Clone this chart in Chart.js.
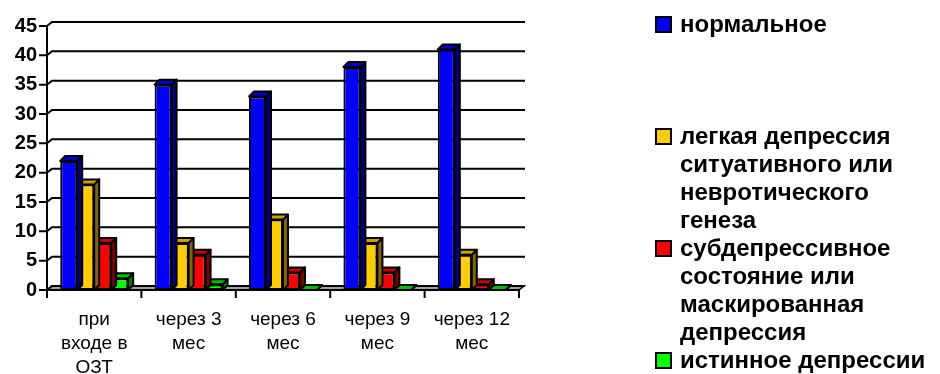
<!DOCTYPE html>
<html lang="ru">
<head>
<meta charset="utf-8">
<title>Динамика депрессивных состояний</title>
<script src="https://cdn.jsdelivr.net/npm/chart.js@4.4.1/dist/chart.umd.min.js"></script>
<style>
  html, body { margin: 0; padding: 0; background: #fff; }
  #wrap { position: relative; width: 940px; height: 374px; overflow: hidden; }
  #chart { position: absolute; left: 0; top: 0; }
  #legend { position: absolute; left: 655px; top: 10px; width: 285px; }
  .item { position: absolute; left: 0; width: 285px; }
  .box { position: absolute; left: 0; top: 6px; width: 17px; height: 17px;
         box-sizing: border-box; border: 2px solid #000; }
  .txt { position: absolute; left: 25px; top: 0; width: 262px;
         font: bold 24px "Liberation Sans", Arial, sans-serif; line-height: 28px; color: #000; }
</style>
</head>
<body>
<div id="wrap">
  <canvas id="chart" width="940" height="374"></canvas>
  <div id="legend"></div>
</div>
<script>
// Categories: time points of observation
const categories = [
  ['при', 'входе в', 'ОЗТ'],
  ['через 3', 'мес'],
  ['через 6', 'мес'],
  ['через 9', 'мес'],
  ['через 12', 'мес']
];

// Series names
const seriesNames = [
  'нормальное',
  'легкая депрессия ситуативного или невротического генеза',
  'субдепрессивное состояние или маскированная депрессия',
  'истинное депрессии'
];

// Series values
const normalValues = [22, 35, 33, 38, 41];
const mildValues = [18, 8, 12, 8, 6];
const subValues = [8, 6, 3, 3, 1];
const trueValues = [2, 1, 0, 0, 0];

// Value axis
const yMin = 0;
const yMax = 45;
const yStep = 5;

// Face colours: front, top, side
const palette = [
  { front: '#0000FF', top: '#0000C8', side: '#000080' },
  { front: '#FFCC00', top: '#C8A000', side: '#806600' },
  { front: '#FF0000', top: '#C80000', side: '#800000' },
  { front: '#00FF00', top: '#00C000', side: '#008000' }
];

const seriesValues = [normalValues, mildValues, subValues, trueValues];

// depth offsets for the 3D look
const WALL = { dx: 5, dy: 4 };
const BAR = { dx: 5, dy: 5 };

function poly(ctx, pts, fill, stroke, lw) {
  ctx.beginPath();
  ctx.moveTo(pts[0][0], pts[0][1]);
  for (let i = 1; i < pts.length; i++) ctx.lineTo(pts[i][0], pts[i][1]);
  ctx.closePath();
  if (fill) { ctx.fillStyle = fill; ctx.fill(); }
  if (stroke) { ctx.strokeStyle = stroke; ctx.lineWidth = lw; ctx.stroke(); }
}

// Back wall gridlines, floor and axes
const wallPlugin = {
  id: 'wall3d',
  beforeDatasetsDraw(chart) {
    const ctx = chart.ctx;
    const x = chart.scales.x, y = chart.scales.y;
    const L = x.left, R = x.right;
    const B = y.getPixelForValue(yMin);
    ctx.save();
    ctx.lineCap = 'square';
    // floor
    poly(ctx, [[L, B], [R, B], [R + WALL.dx, B - WALL.dy], [L + WALL.dx, B - WALL.dy]], '#a0a0a0', '#000', 1.5);
    // gridlines on the back wall plus the left-wall diagonals and tick marks
    ctx.strokeStyle = '#000';
    ctx.lineWidth = 2;
    y.ticks.forEach(t => {
      const py = y.getPixelForValue(t.value);
      ctx.beginPath();
      ctx.moveTo(L - 7, py);
      ctx.lineTo(L, py);
      ctx.lineTo(L + WALL.dx, py - WALL.dy);
      ctx.lineTo(R + WALL.dx, py - WALL.dy);
      ctx.stroke();
    });
    // vertical axis
    ctx.beginPath();
    ctx.moveTo(L, y.getPixelForValue(yMax));
    ctx.lineTo(L, B);
    ctx.stroke();
    // horizontal axis with category boundary ticks
    ctx.beginPath();
    ctx.moveTo(L, B);
    ctx.lineTo(R, B);
    ctx.stroke();
    const n = categories.length;
    for (let i = 0; i <= n; i++) {
      const px = L + (R - L) * i / n;
      ctx.beginPath();
      ctx.moveTo(px, B);
      ctx.lineTo(px, B + 7);
      ctx.stroke();
    }
    ctx.restore();
  },
  // top and side faces of each bar, series by series
  afterDatasetDraw(chart, args) {
    const ctx = chart.ctx;
    const meta = args.meta;
    const col = palette[args.index];
    ctx.save();
    ctx.lineJoin = 'round';
    meta.data.forEach(el => {
      const p = el.getProps(['x', 'y', 'base', 'width'], true);
      const l = p.x - p.width / 2, r = p.x + p.width / 2;
      const top = Math.min(p.y, p.base), bot = Math.max(p.y, p.base);
      poly(ctx, [[r, top], [r + BAR.dx, top - BAR.dy], [r + BAR.dx, bot - BAR.dy], [r, bot]], col.side, '#000', 2);
      poly(ctx, [[l, top], [r, top], [r + BAR.dx, top - BAR.dy], [l + BAR.dx, top - BAR.dy]], col.top, '#000', 2);
      if (bot - top < 2) {
        ctx.beginPath();
        ctx.moveTo(l, bot); ctx.lineTo(r, bot);
        ctx.strokeStyle = '#000'; ctx.lineWidth = 2; ctx.stroke();
      }
    });
    ctx.restore();
  }
};

Chart.defaults.color = '#000';

const chart = new Chart(document.getElementById('chart'), {
  type: 'bar',
  data: {
    labels: categories,
    datasets: seriesNames.map((name, i) => ({
      label: name,
      data: seriesValues[i],
      backgroundColor: palette[i].front,
      borderColor: '#000',
      borderWidth: 2,
      borderSkipped: false,
      categoryPercentage: 0.72,
      barPercentage: 1.0
    }))
  },
  options: {
    responsive: false,
    animation: false,
    devicePixelRatio: 1,
    layout: { padding: { top: 26, right: 421, bottom: 0, left: 0 } },
    plugins: { legend: { display: false }, tooltip: { enabled: false } },
    scales: {
      x: {
        grid: { display: false, drawTicks: false },
        border: { display: false },
        ticks: {
          autoSkip: false,
          maxRotation: 0,
          padding: 18,
          color: '#000',
          font: { family: '"Liberation Sans", Arial, sans-serif', size: 19, lineHeight: 1.26 }
        },
        afterFit(scale) { scale.height = 84; }
      },
      y: {
        min: yMin,
        max: yMax,
        grid: { display: false, drawTicks: false },
        border: { display: false },
        ticks: {
          stepSize: yStep,
          padding: 10,
          color: '#000',
          font: { family: '"Liberation Sans", Arial, sans-serif', size: 20, weight: 'bold' }
        },
        afterFit(scale) { scale.width = 47; }
      }
    }
  },
  plugins: [wallPlugin]
});

// Legend built from the chart's datasets
const legend = document.getElementById('legend');
chart.data.datasets.forEach((ds, i) => {
  const item = document.createElement('div');
  item.className = 'item';
  item.style.top = (i * 112) + 'px';
  const box = document.createElement('div');
  box.className = 'box';
  box.style.background = ds.backgroundColor;
  const txt = document.createElement('div');
  txt.className = 'txt';
  txt.textContent = ds.label;
  item.appendChild(box);
  item.appendChild(txt);
  legend.appendChild(item);
});
</script>
</body>
</html>
